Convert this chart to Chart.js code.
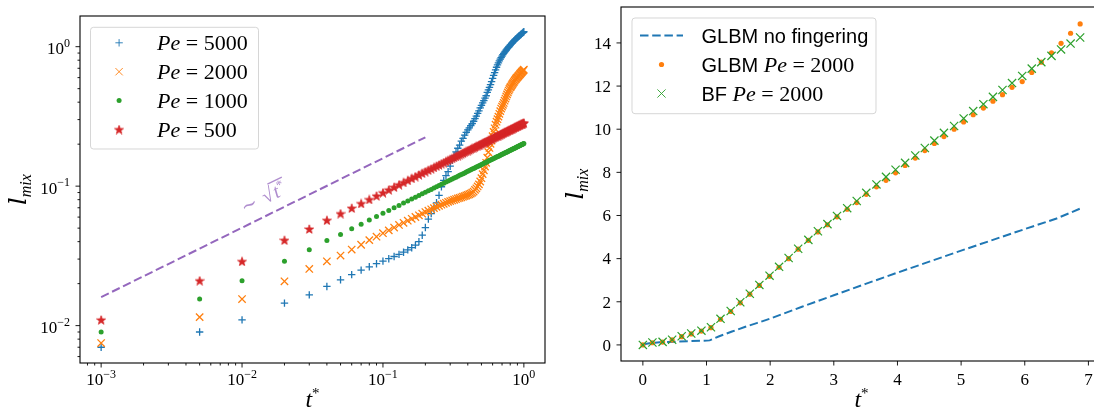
<!DOCTYPE html>
<html>
<head>
<meta charset="utf-8">
<script src="https://cdn.jsdelivr.net/npm/chart.js@4.4.0/dist/chart.umd.min.js"></script>
<style>
  html, body { margin: 0; padding: 0; background: #fff; overflow: hidden; width: 1094px; height: 412px; }
  #left { position: absolute; left: 0; top: 0; }
  #right { position: absolute; left: 550px; top: 0; }
</style>
</head>
<body>
<canvas id="left" width="560" height="412"></canvas>
<canvas id="right" width="560" height="412"></canvas>
<script>
// ---------- left panel: l_mix vs t* (log-log) ----------
const tLeft = [0.001, 0.005, 0.01, 0.02, 0.03, 0.04, 0.05, 0.06, 0.07, 0.08, 0.09,
  0.10, 0.11, 0.12, 0.13, 0.14, 0.15, 0.16, 0.17, 0.18, 0.19,
  0.20, 0.21, 0.22, 0.23, 0.24, 0.25, 0.26, 0.27, 0.28, 0.29,
  0.30, 0.31, 0.32, 0.33, 0.34, 0.35, 0.36, 0.37, 0.38, 0.39,
  0.40, 0.41, 0.42, 0.43, 0.44, 0.45, 0.46, 0.47, 0.48, 0.49,
  0.50, 0.51, 0.52, 0.53, 0.54, 0.55, 0.56, 0.57, 0.58, 0.59,
  0.60, 0.61, 0.62, 0.63, 0.64, 0.65, 0.66, 0.67, 0.68, 0.69,
  0.70, 0.71, 0.72, 0.73, 0.74, 0.75, 0.76, 0.77, 0.78, 0.79,
  0.80, 0.81, 0.82, 0.83, 0.84, 0.85, 0.86, 0.87, 0.88, 0.89,
  0.90, 0.91, 0.92, 0.93, 0.94, 0.95, 0.96, 0.97, 0.98, 0.99,
  1.00];

const lPe5000 = [0.0070, 0.0090, 0.0110, 0.0145, 0.0166, 0.0191, 0.0213, 0.0232, 0.0250, 0.0264, 0.0278,
  0.0290, 0.0302, 0.0313, 0.0324, 0.0336, 0.0349, 0.0362, 0.0378, 0.0400, 0.0445,
  0.0505, 0.0580, 0.0635, 0.0690, 0.0760, 0.0860, 0.0990, 0.110, 0.119, 0.127,
  0.139, 0.153, 0.165, 0.176, 0.187, 0.197, 0.210, 0.220, 0.232, 0.243,
  0.253, 0.262, 0.272, 0.281, 0.292, 0.305, 0.318, 0.332, 0.347, 0.364,
  0.380, 0.395, 0.410, 0.428, 0.445, 0.470, 0.490, 0.510, 0.535, 0.562,
  0.592, 0.622, 0.652, 0.682, 0.712, 0.740, 0.766, 0.790, 0.813, 0.835,
  0.856, 0.876, 0.895, 0.913, 0.930, 0.947, 0.963, 0.979, 0.995, 1.010,
  1.025, 1.040, 1.055, 1.070, 1.086, 1.100, 1.113, 1.126, 1.139, 1.151,
  1.163, 1.175, 1.187, 1.199, 1.211, 1.222, 1.234, 1.245, 1.257, 1.268,
  1.280];

const lPe2000 = [0.0075, 0.0115, 0.0155, 0.0208, 0.0255, 0.0289, 0.0318, 0.0351, 0.0380, 0.0410, 0.0434,
  0.0460, 0.0482, 0.0505, 0.0527, 0.0546, 0.0565, 0.0583, 0.0601, 0.0618, 0.0635,
  0.0652, 0.0667, 0.0682, 0.0696, 0.0710, 0.0723, 0.0736, 0.0748, 0.0760, 0.0771,
  0.0781, 0.0790, 0.0799, 0.0808, 0.0816, 0.0824, 0.0832, 0.0840, 0.0848, 0.0857,
  0.0866, 0.0875, 0.0885, 0.0898, 0.0915, 0.0940, 0.0965, 0.0995, 0.103, 0.108,
  0.114, 0.122, 0.130, 0.138, 0.147, 0.160, 0.175, 0.188, 0.201, 0.212,
  0.228, 0.245, 0.260, 0.276, 0.290, 0.302, 0.315, 0.330, 0.345, 0.360,
  0.372, 0.383, 0.395, 0.410, 0.425, 0.440, 0.455, 0.470, 0.485, 0.498,
  0.510, 0.518, 0.529, 0.540, 0.550, 0.560, 0.570, 0.580, 0.589, 0.597,
  0.605, 0.613, 0.621, 0.629, 0.637, 0.645, 0.653, 0.661, 0.668, 0.676,
  0.684];

const lPe1000 = [0.0090, 0.0155, 0.0210, 0.0289, 0.0350, 0.0408, 0.0451, 0.0495, 0.0534, 0.0571, 0.0606,
  0.0639, 0.0670, 0.0700, 0.0728, 0.0756, 0.0782, 0.0808, 0.0833, 0.0857, 0.0881,
  0.0903, 0.0926, 0.0947, 0.0969, 0.0990, 0.1010, 0.1030, 0.1050, 0.1069, 0.1088,
  0.1106, 0.1125, 0.1143, 0.1160, 0.1178, 0.1195, 0.1212, 0.1229, 0.1245, 0.1261,
  0.1278, 0.1293, 0.1309, 0.1325, 0.1340, 0.1355, 0.1370, 0.1385, 0.1399, 0.1414,
  0.1428, 0.1442, 0.1457, 0.1471, 0.1484, 0.1498, 0.1512, 0.1525, 0.1538, 0.1552,
  0.1565, 0.1578, 0.1591, 0.1603, 0.1616, 0.1629, 0.1641, 0.1653, 0.1666, 0.1678,
  0.1690, 0.1702, 0.1714, 0.1726, 0.1738, 0.1749, 0.1761, 0.1773, 0.1784, 0.1795,
  0.1807, 0.1818, 0.1829, 0.1840, 0.1851, 0.1862, 0.1873, 0.1884, 0.1895, 0.1906,
  0.1916, 0.1927, 0.1938, 0.1948, 0.1958, 0.1969, 0.1979, 0.1989, 0.2000, 0.2010,
  0.2020];

const lPe500 = [0.0110, 0.0210, 0.0289, 0.0410, 0.0493, 0.0570, 0.0636, 0.0696, 0.0751, 0.0803, 0.0852,
  0.0898, 0.0942, 0.0984, 0.1024, 0.1063, 0.1100, 0.1136, 0.1171, 0.1205, 0.1238,
  0.1270, 0.1302, 0.1332, 0.1362, 0.1391, 0.1420, 0.1448, 0.1476, 0.1503, 0.1529,
  0.1555, 0.1581, 0.1607, 0.1632, 0.1656, 0.1680, 0.1704, 0.1728, 0.1751, 0.1774,
  0.1796, 0.1818, 0.1841, 0.1862, 0.1884, 0.1905, 0.1926, 0.1947, 0.1968, 0.1988,
  0.2008, 0.2028, 0.2048, 0.2068, 0.2087, 0.2106, 0.2125, 0.2144, 0.2163, 0.2181,
  0.2200, 0.2218, 0.2236, 0.2254, 0.2272, 0.2290, 0.2307, 0.2325, 0.2342, 0.2359,
  0.2376, 0.2393, 0.2410, 0.2426, 0.2443, 0.2459, 0.2476, 0.2492, 0.2508, 0.2524,
  0.2540, 0.2556, 0.2572, 0.2587, 0.2603, 0.2618, 0.2634, 0.2649, 0.2664, 0.2679,
  0.2694, 0.2709, 0.2724, 0.2739, 0.2753, 0.2768, 0.2783, 0.2797, 0.2811, 0.2826,
  0.2840];

// guide line ~ sqrt(t*)
const tGuide = [0.001, 0.2];
const lGuide = [0.016, 0.224];

const peValues = ["5000", "2000", "1000", "500"];
const leftXTicks = [0.001, 0.01, 0.1, 1];
const leftYTicks = [0.01, 0.1, 1];

// ---------- right panel: l_mix vs t* (linear) ----------
const tNoFing = [0, 0.1, 0.3, 0.5, 0.7, 0.9, 1.05, 1.2, 1.4, 1.6, 1.8, 2.0, 2.5, 3.0, 3.5, 4.0, 4.5, 5.0, 5.5, 6.0, 6.5, 6.87];
const lNoFing = [0.02, 0.08, 0.13, 0.15, 0.17, 0.19, 0.21, 0.40, 0.62, 0.83, 1.02, 1.22, 1.77, 2.30, 2.83, 3.35, 3.86, 4.37, 4.87, 5.37, 5.86, 6.32];

const tRight = [0, 0.15, 0.31, 0.46, 0.61, 0.76, 0.92, 1.07, 1.22, 1.38, 1.53, 1.68, 1.83, 1.99, 2.14, 2.29,
  2.44, 2.60, 2.75, 2.90, 3.05, 3.21, 3.36, 3.51, 3.67, 3.82, 3.97, 4.12, 4.28, 4.43, 4.58,
  4.73, 4.89, 5.04, 5.19, 5.35, 5.50, 5.65, 5.80, 5.96, 6.11, 6.26, 6.42, 6.57, 6.72, 6.87];
const lGlbm = [0, 0.10, 0.13, 0.23, 0.38, 0.51, 0.64, 0.80, 1.19, 1.55, 1.95, 2.35, 2.76, 3.18, 3.60, 4.00,
  4.44, 4.85, 5.24, 5.57, 5.94, 6.29, 6.60, 6.98, 7.33, 7.63, 7.98, 8.32, 8.66, 9.01, 9.34,
  9.66, 10.00, 10.34, 10.67, 10.98, 11.30, 11.60, 11.94, 12.21, 12.63, 13.11, 13.54, 13.98, 14.45, 14.88];
const lBf = [0, 0.11, 0.14, 0.24, 0.40, 0.53, 0.66, 0.82, 1.21, 1.57, 1.98, 2.37, 2.78, 3.21, 3.62, 4.03,
  4.46, 4.87, 5.27, 5.60, 5.98, 6.34, 6.67, 7.05, 7.44, 7.79, 8.12, 8.44, 8.78, 9.13, 9.47,
  9.83, 10.15, 10.50, 10.84, 11.16, 11.50, 11.82, 12.14, 12.47, 12.81, 13.11, 13.40, 13.70, 13.97, 14.25];

const rightXTicks = [0, 1, 2, 3, 4, 5, 6, 7];
const rightYTicks = [0, 2, 4, 6, 8, 10, 12, 14];

const C_BLUE = "#1f77b4", C_ORANGE = "#ff7f0e", C_GREEN = "#2ca02c", C_RED = "#d62728", C_PURPLE = "#9467bd";
const SERIF = '"Liberation Serif", "DejaVu Serif", serif';
const SANS = '"Liberation Sans", "DejaVu Sans", sans-serif';

const pts = (xs, ys) => xs.map((x, i) => ({ x: x, y: ys[i] }));

// filled five-point star like matplotlib's '*'
function makeStar(color, size) {
  const c = document.createElement("canvas");
  c.width = size; c.height = size;
  const g = c.getContext("2d");
  const cx = size / 2, cy = size / 2 + 0.5, R = size / 2 - 0.3, r = R * 0.4;
  g.beginPath();
  for (let i = 0; i < 10; i++) {
    const ang = -Math.PI / 2 + i * Math.PI / 5;
    const rr = i % 2 ? r : R;
    g.lineTo(cx + rr * Math.cos(ang), cy + rr * Math.sin(ang));
  }
  g.closePath();
  g.fillStyle = color; g.fill();
  g.strokeStyle = color; g.lineWidth = 0.8; g.stroke();
  return c;
}
const starImg = makeStar(C_RED, 10);

// draw a run of text pieces with their own fonts / vertical offsets
function partsWidth(ctx, parts) {
  let w = 0;
  for (const p of parts) { ctx.font = p.font; w += ctx.measureText(p.text).width; }
  return w;
}
function drawParts(ctx, parts, x, y) {
  let cx = x;
  for (const p of parts) {
    ctx.font = p.font;
    ctx.fillText(p.text, cx, y + (p.dy || 0));
    cx += ctx.measureText(p.text).width;
  }
}
const powParts = (v) => {
  const e = Math.round(Math.log10(v));
  return [{ text: "10", font: `17px ${SERIF}` },
          { text: e < 0 ? "\u2212" + (-e) : String(e), font: `12px ${SERIF}`, dy: -7.5 }];
};
const numParts = (v) => [{ text: String(v), font: `17px ${SERIF}` }];

function drawMarker(ctx, m, x, y) {
  ctx.save();
  ctx.strokeStyle = m.color; ctx.fillStyle = m.color;
  if (m.line) {
    ctx.lineWidth = 2; ctx.setLineDash(m.dash);
    ctx.beginPath(); ctx.moveTo(x - 21.5, y); ctx.lineTo(x + 21.5, y); ctx.stroke();
  } else {
    Chart.helpers.drawPoint(ctx, { pointStyle: m.style, radius: m.radius, rotation: 0, borderWidth: m.bw === undefined ? 1.3 : m.bw }, x, y);
  }
  ctx.restore();
}

// matplotlib-like frame, ticks, labels, legend, annotation
const mplFrame = {
  id: "mplFrame",
  afterDatasetsDraw(chart, args, o) {
    const ctx = chart.ctx, a = chart.chartArea, sx = chart.scales.x, sy = chart.scales.y;
    ctx.save();
    ctx.fillStyle = "#000"; ctx.strokeStyle = "#000";
    ctx.lineWidth = 1.1;
    ctx.strokeRect(a.left, a.top, a.right - a.left, a.bottom - a.top);

    ctx.lineWidth = 0.9;
    const line = (x1, y1, x2, y2) => { ctx.beginPath(); ctx.moveTo(x1, y1); ctx.lineTo(x2, y2); ctx.stroke(); };
    const fmt = o.log ? powParts : numParts;

    o.xTicks.forEach(v => {
      const px = sx.getPixelForValue(v);
      line(px, a.bottom, px, a.bottom + 4.5);
      const parts = fmt(v);
      drawParts(ctx, parts, px - partsWidth(ctx, parts) / 2, 385);
    });
    o.yTicks.forEach(v => {
      const py = sy.getPixelForValue(v);
      line(a.left, py, a.left - 4.5, py);
      const parts = fmt(v);
      drawParts(ctx, parts, a.left - 10 - partsWidth(ctx, parts), py + (o.log ? 7.5 : 5.8));
    });
    if (o.log) {
      // minor ticks
      for (let d = -4; d <= 1; d++) {
        for (let k = 2; k <= 9; k++) {
          const v = k * Math.pow(10, d);
          if (v > sx.min && v < sx.max) { const px = sx.getPixelForValue(v); line(px, a.bottom, px, a.bottom + 2.5); }
          if (v > sy.min && v < sy.max) { const py = sy.getPixelForValue(v); line(a.left, py, a.left - 2.5, py); }
        }
      }
    }

    // axis titles
    const tParts = [{ text: "t", font: `italic 24px ${SERIF}` }, { text: "*", font: `15px ${SERIF}`, dy: -9 }];
    drawParts(ctx, tParts, (a.left + a.right) / 2 - partsWidth(ctx, tParts) / 2, 407);
    const lParts = [{ text: "l", font: `italic 24px "DejaVu Serif", serif` }, { text: "mix", font: `italic 16px ${SERIF}`, dy: 5 }];
    ctx.save();
    ctx.translate(o.yTitleX, (a.top + a.bottom) / 2);
    ctx.rotate(-Math.PI / 2);
    drawParts(ctx, lParts, -partsWidth(ctx, lParts) / 2, 7);
    ctx.restore();

    // annotation "~ sqrt(t*)"
    if (o.note) {
      ctx.save();
      ctx.translate(sx.getPixelForValue(o.note.x), sy.getPixelForValue(o.note.y));
      ctx.rotate(o.note.angle * Math.PI / 180);
      ctx.fillStyle = "rgba(148,103,189,0.75)";
      ctx.font = `20px ${SERIF}`;
      ctx.fillText("\u223C", 0, 0);
      const w = ctx.measureText("\u223C ").width + 2;
      ctx.fillText("\u221A", w, 0);
      const w0 = w + ctx.measureText("\u221A").width;
      ctx.font = `italic 20px ${SERIF}`;
      ctx.fillText("t", w0 + 1, 0);
      const wt = ctx.measureText("t").width;
      ctx.font = `13px ${SERIF}`;
      ctx.fillText("*", w0 + 1 + wt, -7);
      const ws = ctx.measureText("*").width;
      ctx.fillRect(w0 - 1, -17.5, wt + ws + 4, 1.2);
      ctx.restore();
    }

    // legend
    const L = o.legend;
    const bx = a.left + L.dx, by = a.top + L.dy;
    ctx.save();
    ctx.beginPath();
    ctx.roundRect(bx, by, L.w, L.h, 3);
    ctx.fillStyle = "rgba(255,255,255,0.8)"; ctx.fill();
    ctx.strokeStyle = "rgba(204,204,204,0.8)"; ctx.lineWidth = 1; ctx.stroke();
    ctx.restore();
    L.items.forEach((it, i) => {
      const cy = by + L.first + i * L.step;
      drawMarker(ctx, it.marker, bx + L.markerX, cy);
      ctx.fillStyle = "#000";
      drawParts(ctx, it.parts, bx + L.textX, cy + 7.5);
    });
    ctx.restore();
  }
};

const peParts = (v, prefix) => {
  const p = [];
  if (prefix) p.push({ text: prefix, font: `20px ${SANS}` });
  p.push({ text: "Pe", font: `italic 22px ${SERIF}` });
  p.push({ text: " = " + v, font: `22px ${SERIF}` });
  return p;
};

const commonOpts = {
  responsive: false,
  animation: false,
  events: [],
  plugins: { legend: { display: false }, tooltip: { enabled: false } }
};

new Chart(document.getElementById("left"), {
  type: "scatter",
  plugins: [mplFrame],
  data: {
    datasets: [
      { label: "Pe = 5000", data: pts(tLeft, lPe5000), order: 3, pointStyle: "cross", pointRadius: 3.7,
        pointBorderColor: C_BLUE, pointBorderWidth: 1.3, pointBackgroundColor: C_BLUE },
      { label: "Pe = 2000", data: pts(tLeft, lPe2000), order: 2, pointStyle: "crossRot", pointRadius: 5.2,
        pointBorderColor: C_ORANGE, pointBorderWidth: 1.3, pointBackgroundColor: C_ORANGE },
      { label: "Pe = 1000", data: pts(tLeft, lPe1000), order: 1, pointStyle: "circle", pointRadius: 2.5,
        pointBorderWidth: 0, pointBackgroundColor: C_GREEN, pointBorderColor: C_GREEN },
      { label: "Pe = 500", data: pts(tLeft, lPe500), order: 0, pointStyle: starImg, pointRadius: 4 },
      { type: "line", label: "sqrt", data: pts(tGuide, lGuide), order: 4, showLine: true, pointRadius: 0,
        borderColor: C_PURPLE, borderWidth: 2, borderDash: [8.5, 3.7], fill: false }
    ]
  },
  options: Object.assign({}, commonOpts, {
    layout: { padding: { left: 80, right: 15, top: 16, bottom: 49 } },
    scales: {
      x: { type: "logarithmic", display: false, min: Math.pow(10, -3.15), max: Math.pow(10, 0.15) },
      y: { type: "logarithmic", display: false, min: Math.pow(10, -2.268), max: Math.pow(10, 0.22) }
    },
    plugins: Object.assign({}, commonOpts.plugins, {
      mplFrame: {
        log: true, xTicks: leftXTicks, yTicks: leftYTicks, yTitleX: 19,
        note: { x: 0.0104, y: 0.063, angle: -26 },
        legend: {
          dx: 10.5, dy: 11.3, w: 168, h: 121.7, first: 15.5, step: 28.9, markerX: 28.6, textX: 66.6,
          items: [
            { marker: { style: "cross", radius: 3.7, color: C_BLUE }, parts: peParts(peValues[0]) },
            { marker: { style: "crossRot", radius: 5.2, color: C_ORANGE }, parts: peParts(peValues[1]) },
            { marker: { style: "circle", radius: 2.5, color: C_GREEN, bw: 0 }, parts: peParts(peValues[2]) },
            { marker: { style: starImg, radius: 4, color: C_RED }, parts: peParts(peValues[3]) }
          ]
        }
      }
    })
  })
});

new Chart(document.getElementById("right"), {
  type: "scatter",
  plugins: [mplFrame],
  data: {
    datasets: [
      { type: "line", label: "GLBM no fingering", data: pts(tNoFing, lNoFing), order: 2, showLine: true,
        pointRadius: 0, borderColor: C_BLUE, borderWidth: 2, borderDash: [8.5, 3.7], fill: false },
      { label: "GLBM Pe = 2000", data: pts(tRight, lGlbm), order: 1, pointStyle: "circle", pointRadius: 2.6,
        pointBorderWidth: 0, pointBackgroundColor: C_ORANGE, pointBorderColor: C_ORANGE },
      { label: "BF Pe = 2000", data: pts(tRight, lBf), order: 0, pointStyle: "crossRot", pointRadius: 5.8,
        pointBorderColor: C_GREEN, pointBorderWidth: 1.2, pointBackgroundColor: C_GREEN }
    ]
  },
  options: Object.assign({}, commonOpts, {
    layout: { padding: { left: 71, right: 8, top: 4, bottom: 51 } },
    scales: {
      x: { type: "linear", display: false, min: -0.3435, max: 7.2135 },
      y: { type: "linear", display: false, min: -0.746, max: 15.666 }
    },
    plugins: Object.assign({}, commonOpts.plugins, {
      mplFrame: {
        log: false, xTicks: rightXTicks, yTicks: rightYTicks, yTitleX: 26,
        legend: {
          dx: 11, dy: 11, w: 244, h: 95.7, first: 17.5, step: 29, markerX: 29.5, textX: 69.5,
          items: [
            { marker: { line: true, dash: [8.5, 3.7], color: C_BLUE },
              parts: [{ text: "GLBM no fingering", font: `20px ${SANS}` }] },
            { marker: { style: "circle", radius: 2.6, color: C_ORANGE, bw: 0 }, parts: peParts("2000", "GLBM ") },
            { marker: { style: "crossRot", radius: 5.8, color: C_GREEN, bw: 1.2 }, parts: peParts("2000", "BF ") }
          ]
        }
      }
    })
  })
});
</script>
</body>
</html>
